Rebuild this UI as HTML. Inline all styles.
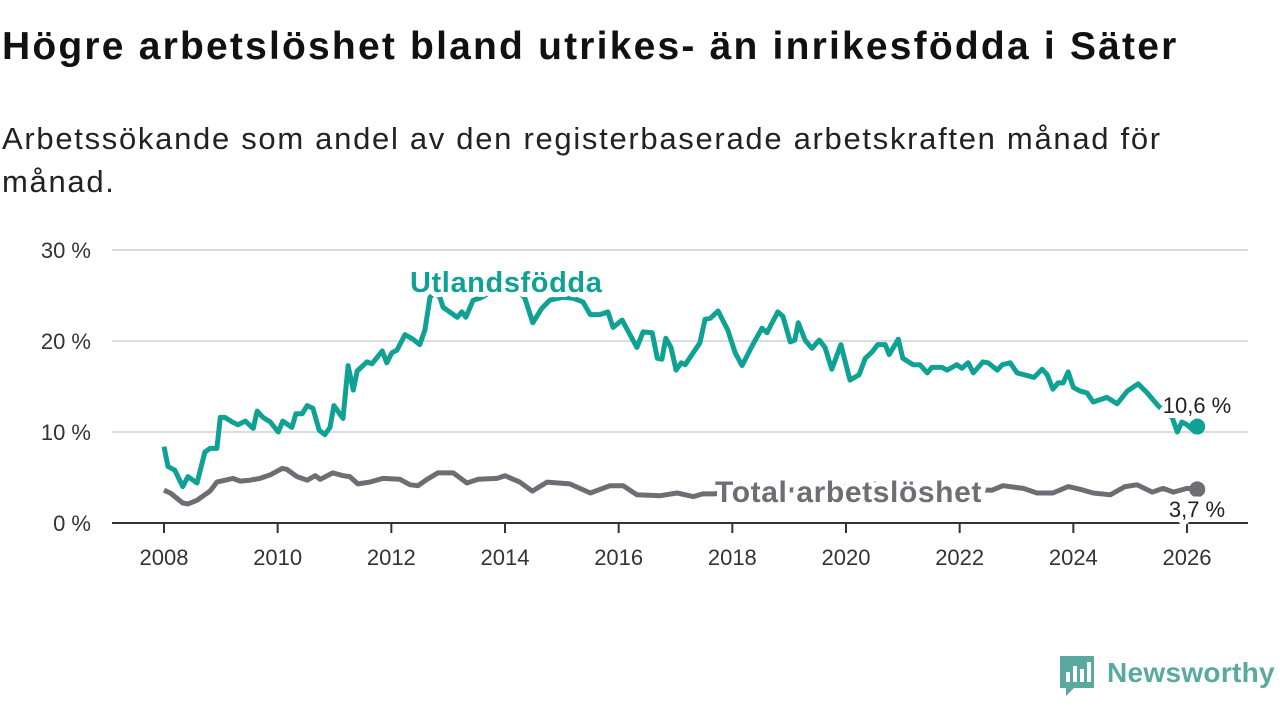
<!DOCTYPE html>
<html><head><meta charset="utf-8">
<style>
body{margin:0;width:1280px;height:720px;background:#fff;overflow:hidden;font-family:"Liberation Sans",sans-serif;}
#title{position:absolute;left:2px;top:25px;font-size:39px;font-weight:bold;color:#111;white-space:nowrap;letter-spacing:2.2px}
#subtitle{position:absolute;left:2px;top:117px;font-size:31px;line-height:43px;color:#222;width:1200px;letter-spacing:1.7px}
svg{position:absolute;left:0;top:0}
</style></head><body>
<div id="title">Högre arbetslöshet bland utrikes- än inrikesfödda i Säter</div>
<div id="subtitle">Arbetssökande som andel av den registerbaserade arbetskraften månad för<br>månad.</div>
<svg id="chart" width="1280" height="720"></svg>
<script>
const yTicks=[0,10,20,30];
const xTicks=[2008,2010,2012,2014,2016,2018,2020,2022,2024,2026];
const utlDates=[2008.0,2008.07,2008.19,2008.33,2008.42,2008.58,2008.72,2008.81,2008.93,2008.99,2009.07,2009.2,2009.3,2009.43,2009.57,2009.64,2009.74,2009.87,2010.01,2010.09,2010.25,2010.32,2010.43,2010.52,2010.62,2010.73,2010.83,2010.92,2010.99,2011.15,2011.24,2011.33,2011.4,2011.57,2011.66,2011.84,2011.92,2012.01,2012.1,2012.24,2012.38,2012.5,2012.59,2012.68,2012.77,2012.86,2012.91,2013.16,2013.24,2013.31,2013.44,2013.56,2013.82,2014.09,2014.26,2014.35,2014.49,2014.65,2014.79,2015.02,2015.2,2015.37,2015.5,2015.67,2015.81,2015.9,2016.06,2016.32,2016.43,2016.59,2016.68,2016.76,2016.83,2016.92,2017.01,2017.1,2017.17,2017.43,2017.52,2017.61,2017.75,2017.92,2018.05,2018.17,2018.36,2018.52,2018.61,2018.7,2018.8,2018.89,2019.02,2019.1,2019.16,2019.28,2019.4,2019.53,2019.63,2019.75,2019.91,2020.07,2020.23,2020.34,2020.46,2020.56,2020.69,2020.76,2020.92,2021.0,2021.18,2021.3,2021.43,2021.51,2021.69,2021.78,2021.95,2022.04,2022.15,2022.24,2022.41,2022.5,2022.66,2022.75,2022.89,2023.01,2023.19,2023.31,2023.45,2023.54,2023.64,2023.73,2023.82,2023.91,2024.0,2024.12,2024.24,2024.35,2024.59,2024.77,2024.95,2025.14,2025.3,2025.49,2025.61,2025.74,2025.83,2025.91,2026.0,2026.11,2026.18];
const utlValues=[8.4,6.2,5.8,4.0,5.1,4.4,7.8,8.2,8.2,11.6,11.6,11.1,10.8,11.2,10.4,12.3,11.6,11.1,10.0,11.2,10.5,12.0,12.0,12.9,12.6,10.2,9.7,10.5,12.9,11.5,17.3,14.6,16.7,17.7,17.5,18.9,17.6,18.7,19.0,20.7,20.2,19.6,21.2,24.8,25.4,24.7,23.7,22.6,23.2,22.6,24.5,24.7,25.6,26.2,25.4,24.7,22.0,23.6,24.5,24.8,24.7,24.3,22.9,22.9,23.2,21.5,22.3,19.3,21.0,20.9,18.1,18.0,20.3,19.3,16.8,17.6,17.4,19.8,22.4,22.5,23.3,21.2,18.7,17.3,19.6,21.4,20.9,22.0,23.2,22.7,19.9,20.1,22.0,20.1,19.2,20.1,19.3,16.9,19.6,15.7,16.3,18.1,18.8,19.6,19.6,18.5,20.2,18.1,17.4,17.4,16.5,17.1,17.1,16.8,17.4,17.0,17.6,16.5,17.7,17.6,16.8,17.4,17.6,16.5,16.2,16.0,16.9,16.3,14.7,15.4,15.4,16.6,14.9,14.5,14.3,13.3,13.8,13.1,14.5,15.3,14.3,12.9,12.2,11.6,10.0,11.1,10.8,10.2,10.6];
const totDates=[2008.0,2008.11,2008.33,2008.42,2008.58,2008.81,2008.93,2009.21,2009.34,2009.51,2009.69,2009.87,2010.08,2010.16,2010.34,2010.52,2010.66,2010.75,2010.97,2011.15,2011.27,2011.41,2011.62,2011.85,2012.15,2012.33,2012.47,2012.63,2012.82,2013.09,2013.33,2013.53,2013.86,2014.0,2014.26,2014.48,2014.74,2015.14,2015.5,2015.85,2016.08,2016.32,2016.73,2017.03,2017.31,2017.48,2017.66,2018.14,2018.84,2019.54,2020.07,2020.6,2021.3,2022.0,2022.57,2022.76,2023.12,2023.36,2023.64,2023.91,2024.12,2024.35,2024.65,2024.91,2025.12,2025.39,2025.58,2025.76,2026.0,2026.18];
const totValues=[3.6,3.3,2.2,2.1,2.5,3.5,4.5,4.9,4.6,4.7,4.9,5.3,6.0,5.9,5.1,4.7,5.2,4.8,5.5,5.2,5.1,4.3,4.5,4.9,4.8,4.2,4.1,4.8,5.5,5.5,4.4,4.8,4.9,5.2,4.5,3.5,4.5,4.3,3.3,4.1,4.1,3.1,3.0,3.3,2.9,3.2,3.2,3.4,3.6,3.7,4.1,4.3,4.0,3.7,3.6,4.1,3.8,3.3,3.3,4.0,3.7,3.3,3.1,4.0,4.2,3.4,3.8,3.4,3.8,3.7];
const NS='http://www.w3.org/2000/svg';
const svg=document.getElementById('chart');
const X=d=>164+(d-2008)*(1187-164)/18;
const Y=v=>523-v*9.1;
function mk(tag,attrs,parent){const e=document.createElementNS(NS,tag);for(const k in attrs)e.setAttribute(k,attrs[k]);(parent||svg).appendChild(e);return e;}
yTicks.forEach(t=>{
  if(t>0){const g=mk('line',{x1:112,x2:1248,y1:Y(t),y2:Y(t),stroke:'#dcdcdc','stroke-width':2});
  
  }
  const l=mk('text',{x:91,y:Y(t)+8,'text-anchor':'end','font-size':22,fill:'#333'});
  l.textContent=t+' %';
  
  
});
const ax=mk('line',{x1:112,x2:1248,y1:523,y2:523,stroke:'#333','stroke-width':2});


xTicks.forEach(t=>{
  const tk=mk('line',{x1:X(t),x2:X(t),y1:523,y2:533,stroke:'#333','stroke-width':2});
  
  
  const l=mk('text',{x:X(t),y:565,'text-anchor':'middle','font-size':22,fill:'#333'});
  l.textContent=t;
  
  
});
function line(dates,vals,color,name){
  const p=mk('path',{d:dates.map((d,i)=>(i?'L':'M')+X(d).toFixed(1)+','+Y(vals[i]).toFixed(1)).join(''),fill:'none',stroke:color,'stroke-width':5,'stroke-linejoin':'round'});
  
  
  const n=dates.length-1;
  const c=mk('circle',{cx:X(dates[n]),cy:Y(vals[n]),r:8,fill:color});
  
  
}
line(totDates,totValues,'#6e6d73','total');
line(utlDates,utlValues,'#10a195','utlandsfodda');
function label(x,y,txt,opts,name){
  const t=mk('text',Object.assign({x:x,y:y,stroke:'#fff','stroke-width':10,'paint-order':'stroke','stroke-linejoin':'round'},opts));
  t.textContent=txt;
  
  
}
label(410,292,'Utlandsfödda',{'font-size':29,'font-weight':'bold',fill:'#10a195','letter-spacing':'0.6'},'utlandsfodda-label');
label(715,502,'Total arbetslöshet',{'font-size':30,'font-weight':'bold',fill:'#6e6d73','letter-spacing':'0.6'},'total-label');
const un=utlValues.length-1, tn=totValues.length-1;
label(1197,413,String(utlValues[un]).replace('.',',')+' %',{'font-size':22,fill:'#222','text-anchor':'middle'},'utlandsfodda-end-value');
label(1197,517,String(totValues[tn]).replace('.',',')+' %',{'font-size':22,fill:'#222','text-anchor':'middle'},'total-end-value');
const lg=mk('g',{});


mk('path',{d:'M1060,656 h34 v32 h-20 l-8,8 v-8 h-6 z',fill:'#5aa9a0'},lg);
mk('rect',{x:1066,y:672,width:4,height:10,fill:'#fff'},lg);
mk('rect',{x:1073,y:666,width:4,height:16,fill:'#fff'},lg);
mk('rect',{x:1080,y:669,width:4,height:13,fill:'#fff'},lg);
mk('rect',{x:1087,y:662,width:4,height:20,fill:'#fff'},lg);
const lt=mk('text',{x:1107,y:682,'font-size':28,'font-weight':'bold',fill:'#5aa9a0','letter-spacing':'0.3'},lg);
lt.textContent='Newsworthy';
</script>
</body></html>
